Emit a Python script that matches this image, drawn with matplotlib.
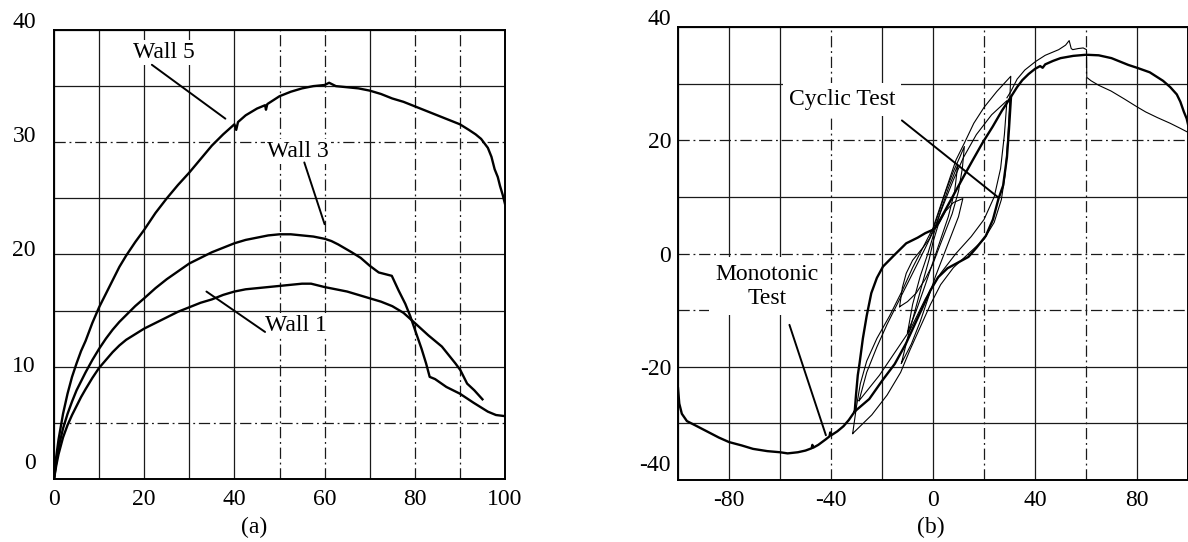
import numpy as np
import matplotlib
matplotlib.use("Agg")
import matplotlib.pyplot as plt
from matplotlib.transforms import ScaledTranslation

plt.rcParams['font.family'] = ['Liberation Serif', 'DejaVu Serif']

# ---------------- Panel (a) data ----------------
wall5_x = [0, 0.5, 1, 2, 3, 4, 5, 6, 7, 8.5, 10, 11.5, 13, 14.5, 16, 18, 20, 22.5,
           25, 27.5, 30, 32.5, 35, 37.5, 40, 40.4, 40.8, 42.5, 45, 46.8, 47.0, 47.3,
           50, 52.5, 55, 57.5, 60, 61, 62.5, 65, 67.5, 70, 72.5, 75, 77.5, 80, 82.5,
           85, 87.5, 90, 92, 93.5, 94.7, 96.2, 97, 97.7, 98.4, 98.9, 99.5, 100]
wall5_y = [0, 2, 3.5, 5.8, 7.6, 9.1, 10.3, 11.4, 12.3, 13.9, 15.3, 16.5, 17.7, 18.9,
           19.9, 21.1, 22.2, 23.7, 25.0, 26.2, 27.3, 28.5, 29.7, 30.7, 31.6, 31.1,
           31.8, 32.4, 33.0, 33.3, 32.9, 33.4, 34.1, 34.5, 34.8, 35.0, 35.1, 35.3,
           35.0, 34.9, 34.8, 34.6, 34.3, 33.9, 33.6, 33.2, 32.8, 32.4, 32.0, 31.6,
           31.1, 30.7, 30.3, 29.5, 28.7, 27.6, 26.9, 26.1, 25.3, 24.5]

wall3_x = [0, 0.5, 1, 2, 3, 4, 5, 6, 7, 8.5, 10, 11.5, 13, 14.5, 16, 18, 20, 22.5,
           25, 27.5, 30, 32.5, 35, 37.5, 40, 42.5, 45, 47.5, 50, 52.5, 55, 57.5, 60,
           61.5, 63, 66, 68, 70, 72, 74.9, 76.4, 77.9, 79, 80.2, 81.5, 82.5, 83.3,
           84.5, 87, 90, 93, 96.2, 98, 100]
wall3_y = [0, 1.5, 2.8, 4.5, 5.8, 6.9, 7.9, 8.7, 9.5, 10.6, 11.6, 12.5, 13.3, 14.0,
           14.6, 15.4, 16.1, 17.0, 17.8, 18.5, 19.2, 19.7, 20.2, 20.6, 21.0, 21.3,
           21.5, 21.7, 21.8, 21.8, 21.7, 21.6, 21.4, 21.2, 20.9, 20.2, 19.7, 19.0,
           18.4, 18.1, 16.8, 15.6, 14.5, 13.1, 11.6, 10.3, 9.1, 8.9, 8.2, 7.6, 6.8,
           6.0, 5.7, 5.6]

wall1_x = [0, 0.5, 1, 2, 3, 4, 5, 6, 7, 8.5, 10, 11.5, 13, 14.5, 16, 18, 20, 22.5,
           25, 27.5, 30, 32.5, 35, 37.5, 40, 42.5, 45, 47.5, 50, 52.5, 55, 57, 60,
           62.5, 65, 67.5, 70, 72.5, 75, 77.5, 80, 83, 86, 89, 90.1, 91.6, 93.2, 95]
wall1_y = [0, 1.2, 2.2, 3.7, 4.8, 5.7, 6.5, 7.3, 8.0, 9.0, 9.9, 10.6, 11.3, 11.9,
           12.4, 12.9, 13.4, 13.9, 14.4, 14.9, 15.3, 15.7, 16.0, 16.4, 16.7, 16.9,
           17.0, 17.1, 17.2, 17.3, 17.4, 17.4, 17.1, 16.9, 16.7, 16.4, 16.1, 15.8,
           15.4, 14.8, 13.9, 12.8, 11.8, 10.3, 9.7, 8.5, 7.9, 7.1]

a_xticks = [0, 10, 20, 30, 40, 50, 60, 70, 80, 90, 100]
a_yticks = [0, 5, 10, 15, 20, 25, 30, 35, 40]

# ---------------- Panel (b) data ----------------
mono_neg_x = [-30.7, -33, -35.1, -37.5, -39.9, -40.3, -40.6, -42, -45, -47, -47.3,
              -47.6, -50, -53, -57, -60, -65, -70.6, -75, -80, -84, -87, -90, -93,
              -96.5, -98.5, -99.5, -100]
mono_neg_y = [-27.9, -29.4, -30.5, -31.4, -32.1, -31.6, -32.3, -32.8, -33.8, -34.3,
              -33.8, -34.4, -34.8, -35.1, -35.3, -35.1, -34.9, -34.5, -33.9, -33.3,
              -32.5, -31.8, -31.1, -30.4, -29.6, -28.3, -26.5, -23.8]

mono_pos_x = [30.6, 33, 35, 37.5, 40, 42, 43, 44, 47, 50, 55, 60, 65, 70, 76.6, 80,
              85, 90.2, 93, 95.6, 97, 98.4, 99.5, 100]
mono_pos_y = [27.7, 29.4, 30.6, 31.7, 32.6, 33.1, 32.8, 33.4, 34.0, 34.5, 34.9, 35.1,
              35.0, 34.5, 33.3, 32.8, 32.0, 30.5, 29.4, 28.1, 26.8, 25.0, 23.8, 22.8]

# thick outer hysteresis loop
loop_big_x = [-30.7, -30.2, -29.5, -28.8, -27.5, -26, -24.2, -22, -19.6, -15, -10.5,
              -6, -3, 0, 1.2, 5, 9.1, 12.5, 15.6, 19.5, 23.4, 27, 30.6,
              29.8, 29, 27.5, 25.7, 23.5, 20.7, 17, 13.9, 9, 5.7, 2, -1, -5, -10.6,
              -15, -20, -25, -30.7]
loop_big_y = [-27.9, -25, -21.5, -19.4, -15, -11, -7, -4.3, -2.3, -0.2, 1.8, 2.8,
              3.6, 4.2, 4.7, 7.8, 11.2, 14, 16.5, 19.6, 22.4, 25.2, 27.7,
              22, 17, 12, 9.7, 6, 3.1, 1, -0.6, -1.8, -2.6, -4.2, -6.5, -10.4, -15.9,
              -19.5, -22.5, -25.7, -27.9]

# thin cyclic loops
loop_outer_x = [-31.5, -30, -28.5, -26, -22, -17, -12, -8, -4, 0, 3, 6, 9, 12.3, 16,
                20, 25, 30.5, 30, 29.3, 28.3, 26.8, 24, 20, 14, 8, 3, -1, -5, -9,
                -12.7, -18, -24, -31.5]
loop_outer_y = [-31.8, -27, -23, -19, -15, -11, -6.5, -2.5, 1, 4.5, 8.5, 12.5, 16.5,
                19.5, 23, 25.8, 28.6, 31.3, 26, 20, 14, 9.5, 5.5, 2.5, 0, -2.5, -5.5,
                -9, -13, -17, -21, -25, -28.5, -31.8]

loop_mid_x = [-29, -26, -22, -18, -13, -8, -3, 0, 4, 8, 12, 17, 23, 29, 28, 26.5,
              24, 20, 15, 9, 3, -3, -9, -15, -21, -29]
loop_mid_y = [-26, -21, -16.5, -12.5, -8, -3.5, 1, 3.8, 8.5, 13, 17, 21, 24.5, 27,
              21, 15, 10, 6, 3, 0, -3.5, -8, -13.5, -17.5, -21.5, -26]

loop_a_x = [-13.1, -12, -10.5, -8, -4, -1.4, 0, 2.5, 5, 8, 10.5, 12.3, 11.5, 10,
            7.5, 4.5, 1.5, 0, -3, -6.6, -10, -13.1]
loop_a_y = [-9.4, -6, -3.5, -1.2, 1, 2.6, 4.2, 7.5, 11, 14.5, 17, 18.9, 15, 11, 7,
            3.5, 0, -1.8, -4.5, -7, -8.5, -9.4]

loop_b_x = [-12.4, -10, -7, -4, -1.5, 0, 2, 5, 8, 11.7, 10, 7, 4, 1, -2, -5, -8.5,
            -12.4]
loop_b_y = [-19.4, -15, -10, -5, -1, 2, 5, 7.5, 9, 9.7, 6.5, 3, -0.5, -4, -8, -12,
            -16, -19.4]

loop_c_x = [-10, -8, -5, -2, 0, 3, 6, 9.7, 8.5, 6, 3, 0, -3, -6.5, -10]
loop_c_y = [-14, -9, -4, 0, 3, 7.5, 11.5, 15.6, 11, 6.5, 2.5, -1.5, -5.5, -10, -14]

cyc_tail_x = [29, 30.5, 33, 36, 40.2, 44, 49.3, 52, 53.4, 54.2, 54.8, 57, 58.9, 60.2,
              60.3, 62, 65, 69.8, 75, 80, 83.4, 88, 93, 97, 100]
cyc_tail_y = [27.5, 28.6, 30.8, 32.4, 33.9, 35.0, 36.0, 36.8, 37.6, 36.2, 36.0, 36.2,
              36.3, 36.0, 31.1, 30.5, 29.7, 28.7, 27.3, 25.9, 25.0, 24.0, 23.0, 22.1,
              21.4]

b_xticks = [-100, -80, -60, -40, -20, 0, 20, 40, 60, 80, 100]
b_yticks = [-40, -30, -20, -10, 0, 10, 20, 30, 40]

# ---------------- figure ----------------
W, H = 1188, 542
fig = plt.figure(figsize=(W / 100, H / 100), dpi=100)

def px_axes(l, t, r, b):
    return fig.add_axes([l / W, 1 - b / H, (r - l) / W, (b - t) / H])

axA = px_axes(54, 30, 505, 479)
axB = px_axes(678, 27, 1188, 480)

FS = 17
DASHDOT = (0, (9, 3, 1.5, 3))
GRID_C = '#1a1a1a'


def style_axis(ax, xticks, yticks, xlabeled, ylabeled, xdash, ydash, ypad):
    ax.set_xticks(xticks)
    ax.set_yticks(yticks)
    ax.set_xticklabels([str(v) if v in xlabeled else '' for v in xticks])
    ax.set_yticklabels([str(v) if v in ylabeled else '' for v in yticks])
    ax.tick_params(length=0, labelsize=FS, colors='black')
    ax.tick_params(axis='x', pad=7)
    ax.tick_params(axis='y', pad=ypad)
    ax.grid(True, color=GRID_C, linewidth=0.9)
    for t in ax.xaxis.get_major_ticks():
        if t.get_loc() in xdash:
            t.gridline.set_linestyle(DASHDOT)
    for t in ax.yaxis.get_major_ticks():
        if t.get_loc() in ydash:
            t.gridline.set_linestyle(DASHDOT)
    ax.set_axisbelow(True)
    for s in ax.spines.values():
        s.set_linewidth(1.4)
        s.set_color('black')


def shift_ylabels(ax, offsets_px):
    for t in ax.yaxis.get_major_ticks():
        dy = offsets_px.get(t.get_loc(), 0)
        if dy:
            t.label1.set_transform(t.label1.get_transform() +
                                   ScaledTranslation(0, dy / 100, fig.dpi_scale_trans))


lw_thick = 1.7
lw_thin = 0.8
leader = dict(arrowstyle='-', color='black', lw=1.4, shrinkA=0, shrinkB=0)
bbox_w = dict(facecolor='white', edgecolor='none', pad=1.5)

# ----- panel (a)
axA.set_xlim(0, 100)
axA.set_ylim(0, 40)
style_axis(axA, a_xticks, a_yticks, (0, 20, 40, 60, 80, 100), (0, 10, 20, 30, 40),
           (50, 60, 80, 90), (5, 30), 13)
shift_ylabels(axA, {40: 10, 30: 8, 20: 7, 10: 3, 0: 18})

axA.plot(wall5_x, wall5_y, color='black', lw=lw_thick, zorder=3)
axA.plot(wall3_x, wall3_y, color='black', lw=lw_thick, zorder=3)
axA.plot(wall1_x, wall1_y, color='black', lw=lw_thick, zorder=3)

axA.text(24.3, 38.0, 'Wall 5', fontsize=FS, ha='center', va='center', bbox=bbox_w, zorder=4)
axA.text(54.0, 29.2, 'Wall 3', fontsize=FS, ha='center', va='center', bbox=bbox_w, zorder=4)
axA.text(53.6, 13.7, 'Wall 1', fontsize=FS, ha='center', va='center', bbox=bbox_w, zorder=4)
axA.annotate('', xy=(38, 32.1), xytext=(21.7, 36.9), arrowprops=leader, zorder=4)
axA.annotate('', xy=(60, 22.7), xytext=(55.5, 28.2), arrowprops=leader, zorder=4)
axA.annotate('', xy=(46.8, 13.1), xytext=(33.8, 16.7), arrowprops=leader, zorder=4)

# ----- panel (b)
axB.set_xlim(-100, 100)
axB.set_ylim(-40, 40)
style_axis(axB, b_xticks, b_yticks, (-80, -40, 0, 40, 80), (-40, -20, 0, 20, 40),
           (-40, 20, 60), (20, 0, -10), 5)
shift_ylabels(axB, {40: 10, -40: 17})

for lx, ly in [(loop_outer_x, loop_outer_y), (loop_mid_x, loop_mid_y),
               (loop_a_x, loop_a_y), (loop_b_x, loop_b_y), (loop_c_x, loop_c_y),
               (cyc_tail_x, cyc_tail_y)]:
    axB.plot(lx, ly, color='black', lw=lw_thin, zorder=3)
axB.plot(loop_big_x, loop_big_y, color='black', lw=lw_thick, zorder=3)
axB.plot(mono_neg_x, mono_neg_y, color='black', lw=lw_thick, zorder=3)
axB.plot(mono_pos_x, mono_pos_y, color='black', lw=lw_thick, zorder=3)

axB.text(-35.6, 27.2, 'Cyclic Test', fontsize=FS, ha='center', va='center',
         bbox=dict(facecolor='white', edgecolor='none', pad=4), zorder=4)
axB.text(-65, -5.8, 'Monotonic\nTest', fontsize=FS, ha='center', va='center',
         linespacing=1.15, bbox=dict(facecolor='white', edgecolor='none', pad=5), zorder=4)
axB.annotate('', xy=(25.6, 9.9), xytext=(-12.2, 23.5), arrowprops=leader, zorder=4)
axB.annotate('', xy=(-42, -32.1), xytext=(-56.3, -12.6), arrowprops=leader, zorder=4)

fig.text(254 / W, 1 - 527 / H, '(a)', fontsize=FS, ha='center', va='center')
fig.text(931 / W, 1 - 527 / H, '(b)', fontsize=FS, ha='center', va='center')

fig.savefig('out.png', dpi=100)
